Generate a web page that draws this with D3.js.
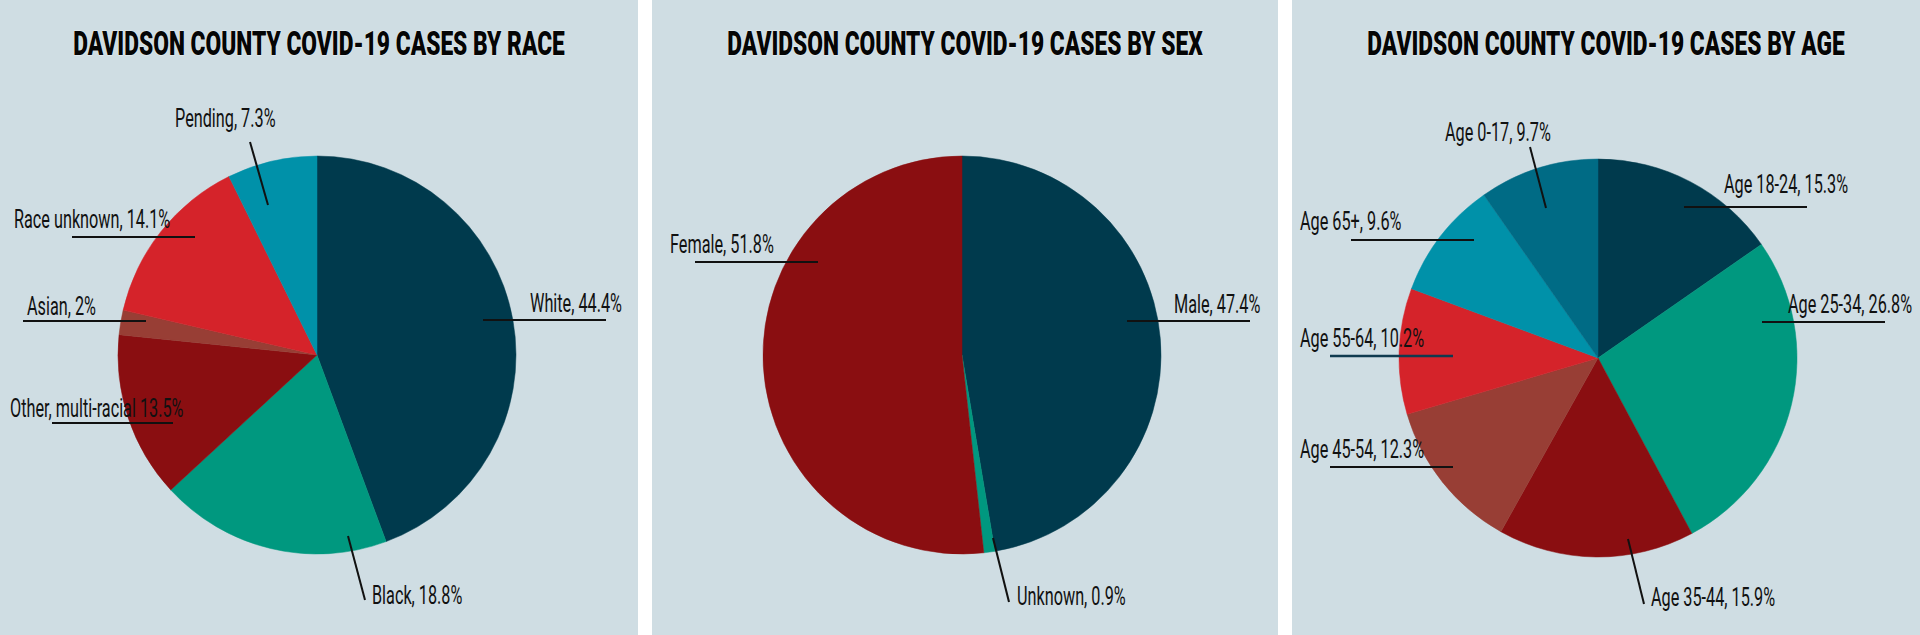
<!DOCTYPE html>
<html>
<head>
<meta charset="utf-8">
<script src="https://cdn.jsdelivr.net/npm/d3@7"></script>
<style>
  html, body { margin: 0; padding: 0; background: #ffffff; }
  svg { display: block; }
</style>
</head>
<body>
<svg id="chart" width="1920" height="635"></svg>
<script>
// ---------- DATA ----------
const titles = [
  "DAVIDSON COUNTY COVID-19 CASES BY RACE",
  "DAVIDSON COUNTY COVID-19 CASES BY SEX",
  "DAVIDSON COUNTY COVID-19 CASES BY AGE"
];

const raceCategories = ["White", "Black", "Other, multi-racial", "Asian", "Race unknown", "Pending"];
const raceValues = [44.4, 18.8, 13.5, 2, 14.1, 7.3];
const raceLabels = ["White, 44.4%", "Black, 18.8%", "Other, multi-racial 13.5%", "Asian, 2%", "Race unknown, 14.1%", "Pending, 7.3%"];

const sexCategories = ["Male", "Unknown", "Female"];
const sexValues = [47.4, 0.9, 51.8];
const sexLabels = ["Male, 47.4%", "Unknown, 0.9%", "Female, 51.8%"];

const ageCategories = ["Age 18-24", "Age 25-34", "Age 35-44", "Age 45-54", "Age 55-64", "Age 65+", "Age 0-17"];
const ageValues = [15.3, 26.8, 15.9, 12.3, 10.2, 9.6, 9.7];
const ageLabels = ["Age 18-24, 15.3%", "Age 25-34, 26.8%", "Age 35-44, 15.9%", "Age 45-54, 12.3%", "Age 55-64, 10.2%", "Age 65+, 9.6%", "Age 0-17, 9.7%"];

// ---------- STYLE / LAYOUT ----------
const C = {
  navy: "#003a4d", green: "#00987f", darkRed: "#8a0e11", brown: "#983e35",
  red: "#d5232a", tealBlue: "#0091a9", darkTeal: "#006b85"
};
const raceColors = [C.navy, C.green, C.darkRed, C.brown, C.red, C.tealBlue];
const sexColors = [C.navy, C.green, C.darkRed];
const ageColors = [C.navy, C.green, C.darkRed, C.brown, C.red, C.tealBlue, C.darkTeal];

const W = 1920, H = 635;
const panelBg = "#cfdde3";
const panels = [
  { x0: 0, x1: 638 },
  { x0: 652, x1: 1278 },
  { x0: 1292, x1: 1920 }
];
const pieR = 199;
// pie centre offsets relative to panel centre
const pieOffsets = [[-2, 355], [-3, 355], [-8, 358]];

// annotation layout (pixels relative to pie centre): leader line and text anchor
const raceAnno = [
  { line: [166, -35, 289, -35], text: [213, -43] },
  { line: [31, 181, 48, 245], text: [55, 249] },
  { line: [-265, 68, -144, 68], text: [-307, 62] },
  { line: [-294, -34, -171, -34], text: [-290, -40] },
  { line: [-245, -118, -122, -118], text: [-303, -127] },
  { line: [-67, -213, -49, -150], text: [-142, -228] }
];
const sexAnno = [
  { line: [165, -34, 288, -34], text: [212, -42] },
  { line: [31, 183, 47, 247], text: [55, 250] },
  { line: [-267, -93, -144, -93], text: [-292, -102] }
];
const ageAnno = [
  { line: [86, -151, 209, -151], text: [126, -165] },
  { line: [164, -36, 287, -36], text: [190, -45] },
  { line: [30, 181, 46, 246], text: [53, 248] },
  { line: [-268, 109, -145, 109], text: [-298, 100] },
  { line: [-268, -2, -145, -2], text: [-298, -11], stroke: "#0f3a4f", width: 2.6 },
  { line: [-247, -118, -124, -118], text: [-298, -128] },
  { line: [-68, -211, -52, -150], text: [-153, -217] }
];

const charts = [
  { cats: raceCategories, vals: raceValues, labels: raceLabels, colors: raceColors, anno: raceAnno },
  { cats: sexCategories, vals: sexValues, labels: sexLabels, colors: sexColors, anno: sexAnno },
  { cats: ageCategories, vals: ageValues, labels: ageLabels, colors: ageColors, anno: ageAnno }
];

const labelFont = "Roboto, 'Liberation Sans', sans-serif";
const labelSize = 26.5;
const titleFont = "Roboto, 'Liberation Sans', sans-serif";
const titleSize = 33;

// ---------- DRAW ----------
const svg = d3.select("#chart");
svg.append("rect").attr("width", W).attr("height", H).attr("fill", "#ffffff");

// measure helpers
function measure(txt, font, size, weight) {
  const t = svg.append("text").attr("font-family", font).attr("font-size", size)
    .attr("font-weight", weight).text(txt);
  const w = t.node().getComputedTextLength();
  t.remove();
  return w;
}
const titleSX = 492 / measure(titles[0], titleFont, titleSize, 900);
const labelSX = 92 / measure("White, 44.4%", labelFont, labelSize, 400);

const pie = d3.pie().sort(null).value(d => d.v).startAngle(0).endAngle(2 * Math.PI);
const arc = d3.arc().innerRadius(0).outerRadius(pieR);

panels.forEach((p, i) => {
  const g = svg.append("g");
  g.append("rect").attr("x", p.x0).attr("y", 0).attr("width", p.x1 - p.x0).attr("height", H)
    .attr("fill", panelBg);

  const pc = (p.x0 + p.x1) / 2;
  // title
  g.append("text")
    .attr("transform", `translate(${pc},55) scale(${titleSX},1)`)
    .attr("text-anchor", "middle")
    .attr("font-family", titleFont)
    .attr("font-size", titleSize)
    .attr("font-weight", 900)
    .attr("fill", "#050505")
    .attr("stroke", "rgba(255,255,255,0.55)")
    .attr("stroke-width", 1.2)
    .attr("paint-order", "stroke")
    .text(titles[i]);

  const ch = charts[i];
  const cx = pc + pieOffsets[i][0], cy = pieOffsets[i][1];
  const data = ch.cats.map((c, j) => ({ c, v: ch.vals[j], color: ch.colors[j], label: ch.labels[j], anno: ch.anno[j] }));
  const pg = g.append("g").attr("transform", `translate(${cx},${cy})`);

  pg.selectAll("path.slice").data(pie(data)).join("path")
    .attr("class", "slice")
    .attr("d", arc)
    .attr("fill", d => d.data.color)
    .attr("stroke", d => d.data.color)
    .attr("stroke-width", 0.5);

  // leader lines
  pg.selectAll("line.lead").data(data).join("line")
    .attr("class", "lead")
    .attr("x1", d => d.anno.line[0]).attr("y1", d => d.anno.line[1])
    .attr("x2", d => d.anno.line[2]).attr("y2", d => d.anno.line[3])
    .attr("stroke", d => d.anno.stroke || "#111111")
    .attr("stroke-width", d => d.anno.width || 2);

  // labels
  pg.selectAll("text.lab").data(data).join("text")
    .attr("class", "lab")
    .attr("transform", d => `translate(${d.anno.text[0]},${d.anno.text[1]}) scale(${labelSX},1)`)
    .attr("font-family", labelFont)
    .attr("font-size", labelSize)
    .attr("font-weight", 400)
    .attr("fill", "#111111")
    .text(d => d.label);
});
</script>
</body>
</html>
